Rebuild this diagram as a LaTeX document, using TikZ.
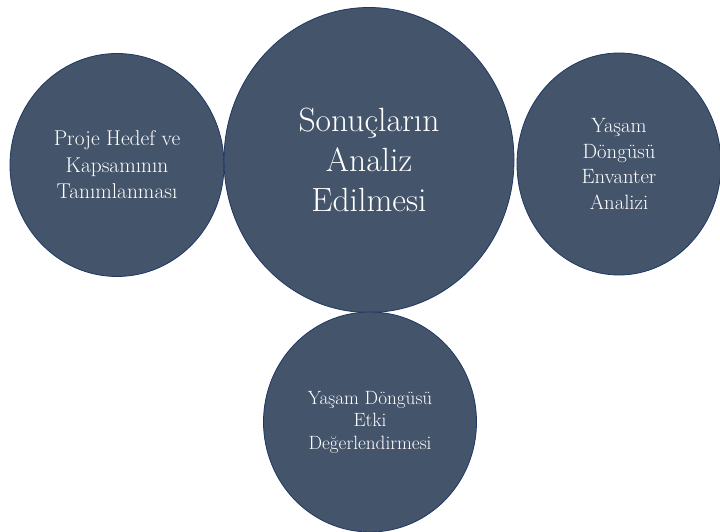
\documentclass[tikz,border=0pt]{standalone}
\usetikzlibrary{shapes.geometric}
\definecolor{slate}{HTML}{44546A}
\definecolor{navy}{HTML}{1F3864}

\begin{document}
\begin{tikzpicture}[x=1pt, y=1pt,
    phase/.style={ellipse, draw=navy, line width=0.8pt, fill=slate,
      text=white, align=center, inner sep=0pt, outer sep=0pt}]
        \useasboundingbox (0, 0) rectangle (720, 532);
        \node[phase, minimum width=214, minimum height=223,
          font=\fontsize{21.4}{26.5}\selectfont] (hedef) at (117, 367)
          {Proje Hedef ve\\Kapsamının\\Tanımlanması};
        \node[phase, minimum width=290, minimum height=305,
          font=\fontsize{33.6}{40}\selectfont] (sonuc) at (369, 372)
          {Sonuçların\\Analiz\\Edilmesi};
        \node[phase, minimum width=204, minimum height=222,
          font=\fontsize{20.7}{25.7}\selectfont] (envanter) at (619, 368)
          {Yaşam\\Döngüsü\\Envanter\\Analizi};
        \node[phase, minimum width=213, minimum height=220,
          font=\fontsize{19.2}{22.5}\selectfont] (etki) at (370, 110)
          {Yaşam Döngüsü\\Etki\\Değerlendirmesi};
      \end{tikzpicture}
\end{document}
